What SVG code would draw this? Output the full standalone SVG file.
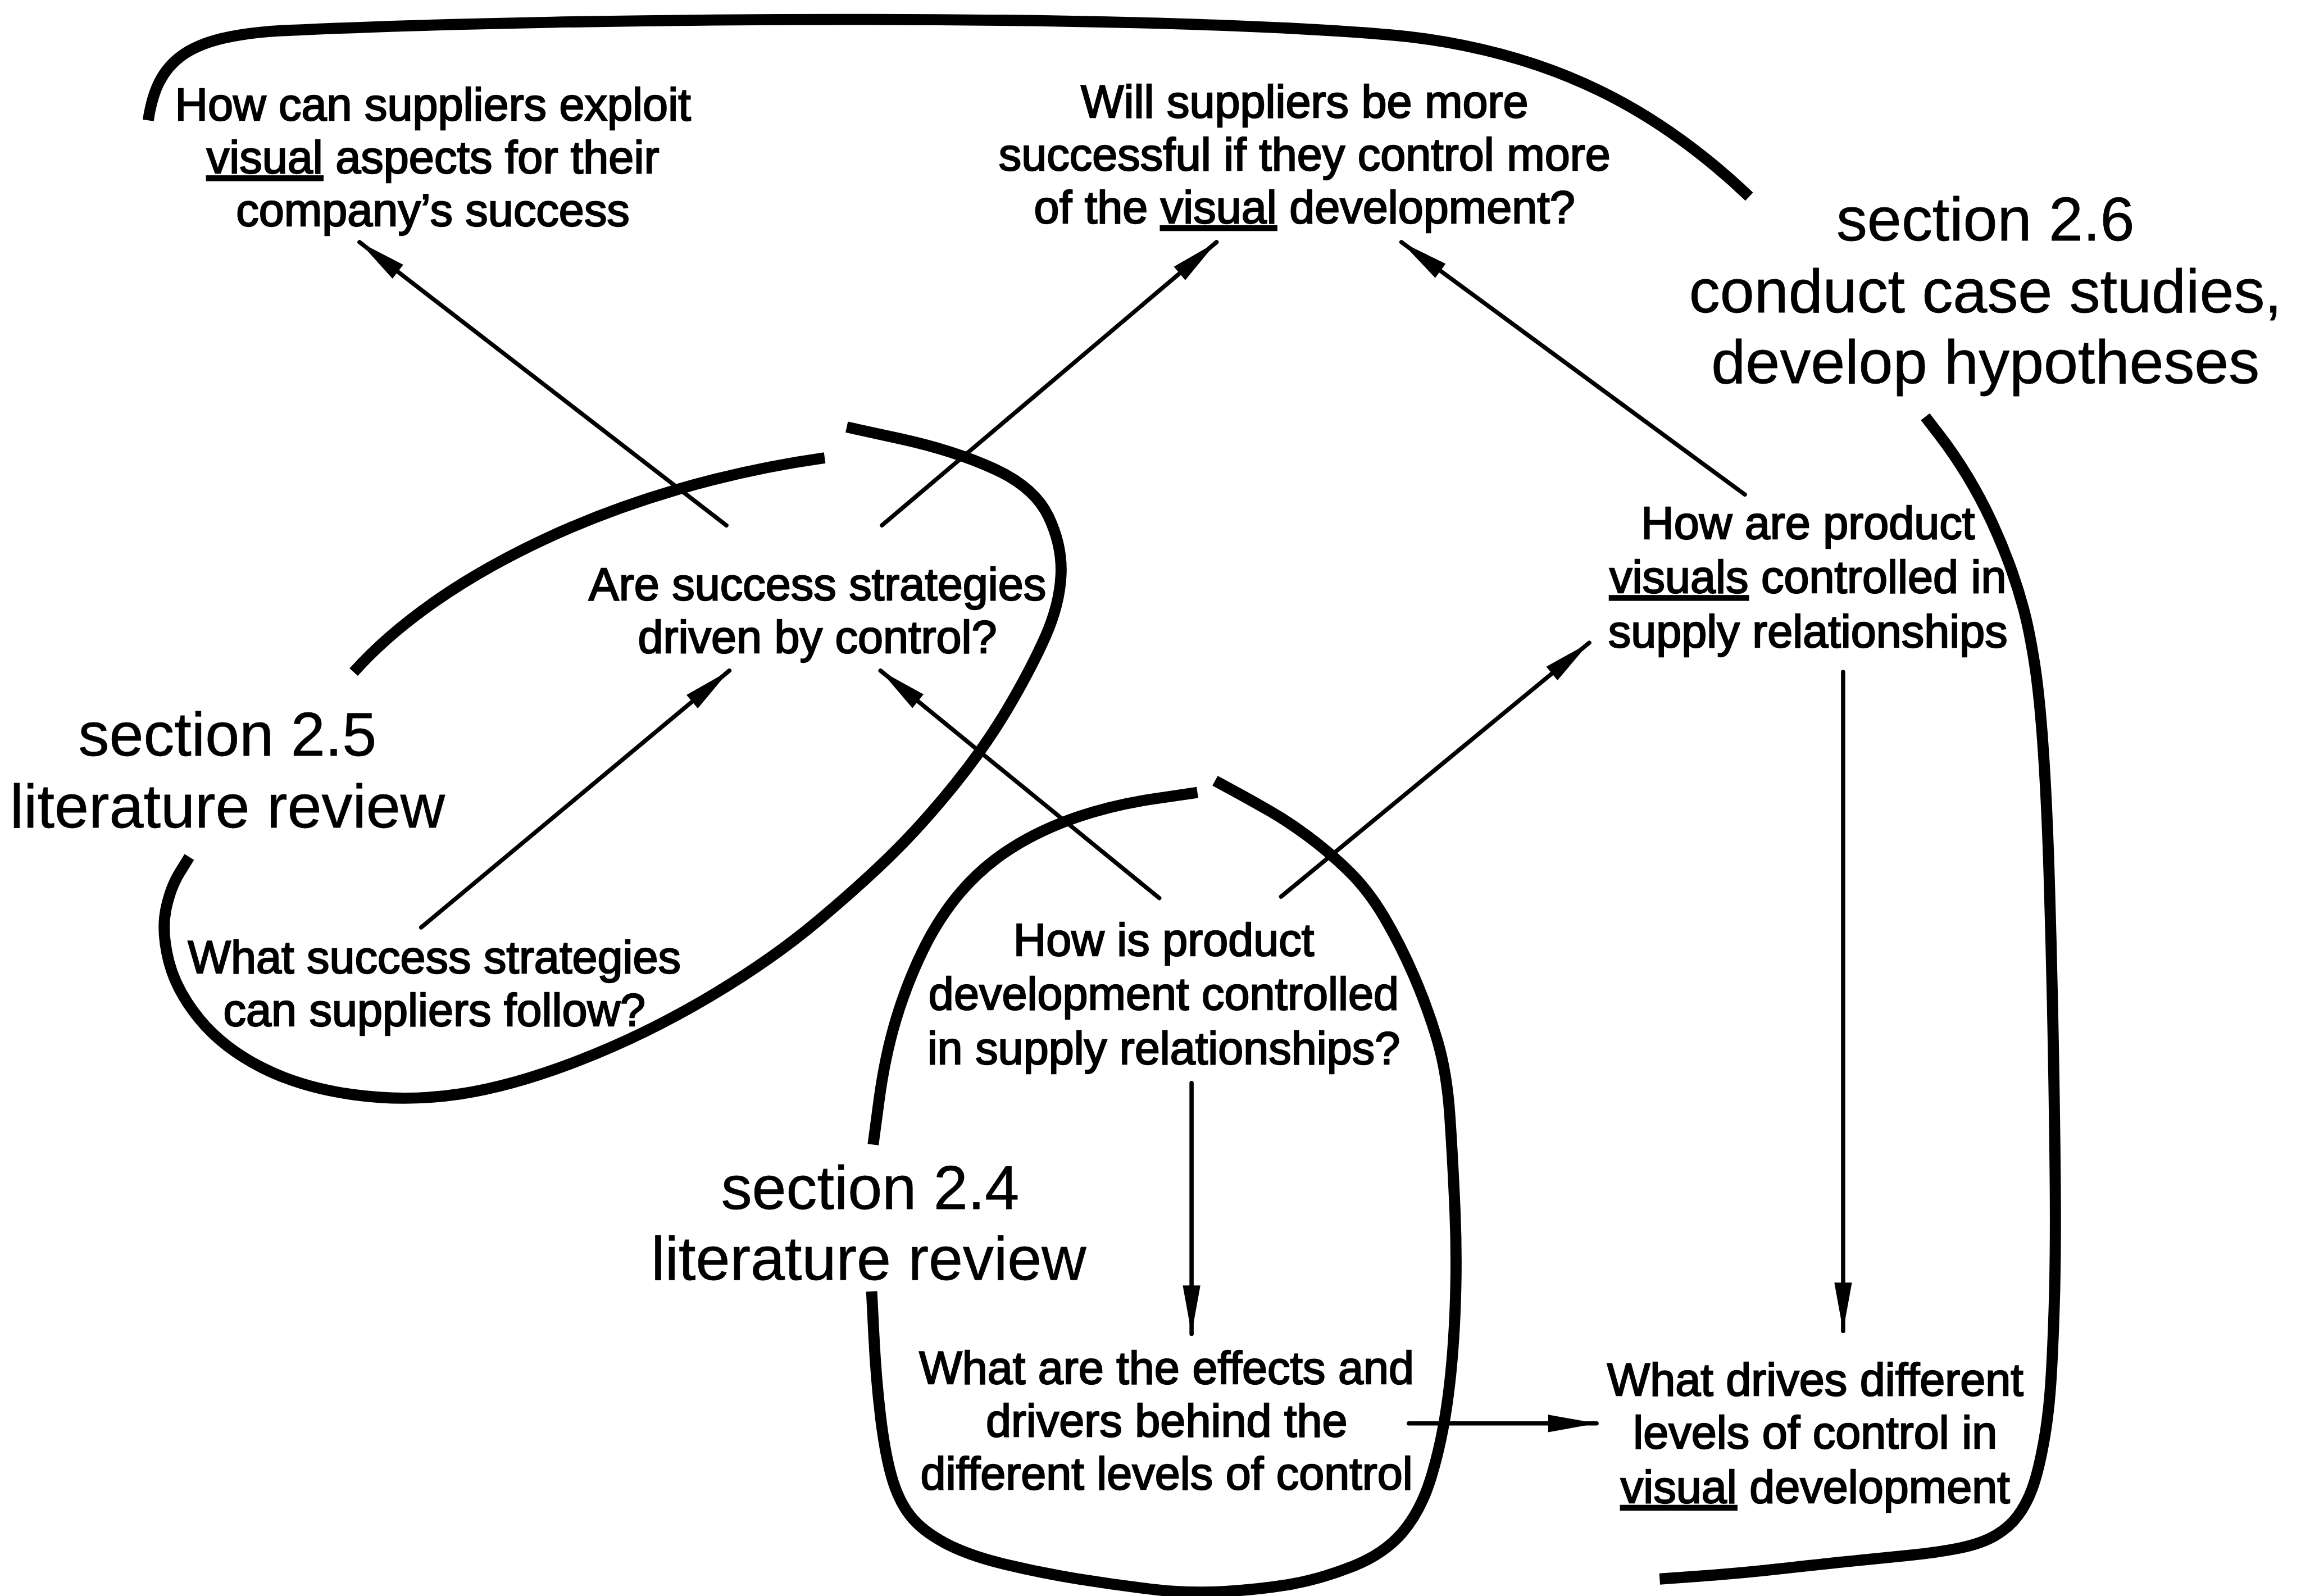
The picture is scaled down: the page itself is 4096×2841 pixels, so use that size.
<svg xmlns="http://www.w3.org/2000/svg" width="4096" height="2841" viewBox="0 0 4096 2841">
  <style>
    .q { font-family: "Liberation Sans", Arial, sans-serif; font-size: 31px; fill: #000; stroke: #000; stroke-width: 0.9px; text-anchor: middle; }
    .s { font-family: "Liberation Sans", Arial, sans-serif; font-size: 42px; fill: #000; stroke: #000; stroke-width: 0.3px; text-anchor: middle; }
    .u { text-decoration: underline; }
    .b { fill: none; stroke: #000; stroke-width: 7.6; stroke-linecap: butt; stroke-linejoin: round; }
    .c { fill: none; stroke: #000; stroke-width: 2.9; stroke-linecap: round; }
  </style>
  <defs>
    <marker id="head" markerUnits="userSpaceOnUse" orient="auto" overflow="visible" markerWidth="1" markerHeight="1">
      <path d="M0,0 L-33,-6 L-33,6 Z" fill="#000"/>
    </marker>
  </defs>
  <rect width="4096" height="2841" fill="#fff"/>
  <g transform="scale(2.6122)">
    <!-- region outlines -->
    <g id="regions">
      <g id="region-2-6">
        <path class="b" d="M 101 82 C 107 42, 126 25, 190 21 C 400 11, 800 9, 960 25 C 1060 37, 1130 75, 1192 134"/>
        <path class="b" d="M 1312 284 L 1322 297 Q 1332 310 1341 325 Q 1350 340 1357 355 Q 1364 370 1369.5 385 Q 1375 400 1379 415 Q 1383 430 1386.5 452.5 Q 1390 475 1392.5 512.5 Q 1395 550 1396.5 600 Q 1398 650 1399 700 Q 1400 750 1400.5 800 Q 1401 850 1400 885 Q 1399 920 1397.5 942.5 Q 1396 965 1392.5 984 Q 1389 1003 1385 1014 Q 1381 1025 1375 1033 Q 1369 1041 1359.5 1046.5 Q 1350 1052 1335 1055 Q 1320 1058 1300 1060 Q 1280 1062 1260 1064 Q 1240 1066 1213.5 1069 Q 1187 1072 1159 1074 L 1131 1076"/>
      </g>
      <g id="region-2-5">
        <path class="b" d="M 241 458 C 300 392, 420 332, 562 312"/>
        <path class="b" d="M 577 291 L 613.5 299 Q 650 307 677.5 319.5 Q 705 332 714.5 352 Q 724 372 723 392 Q 722 412 712.5 433.5 Q 703 455 687.5 481.5 Q 672 508 651 534 Q 630 560 610 580 Q 590 600 558 627 Q 526 654 483 679.5 Q 440 705 395 722.5 Q 350 740 313.5 745.5 Q 277 751 241 746 Q 205 741 178.5 727.5 Q 152 714 136 694.5 Q 120 675 115 655 Q 110 635 113 620 Q 116 605 122.5 594.5 L 129 584"/>
      </g>
      <g id="region-2-4">
        <path class="b" d="M 816 540 L 789 544 Q 760 548 735 556.5 Q 710 565 690 577.5 Q 670 590 655 607.5 Q 640 625 629 647.5 Q 618 670 610.5 695 Q 603 720 599 750 L 595 780"/>
        <path class="b" d="M 594 880 L 595.5 910 Q 597 940 600 965 Q 603 990 607.5 1006 Q 612 1022 620 1032.5 Q 628 1043 644 1051.5 Q 660 1060 685 1066 Q 710 1072 735 1076 Q 760 1080 785 1083 Q 810 1086 835 1084.5 Q 860 1083 880 1079.5 Q 900 1076 921.5 1067.5 Q 943 1059 955.5 1044.5 Q 968 1030 975 1007.5 Q 982 985 986 957.5 Q 990 930 991.5 895 Q 993 860 991.5 825 Q 990 790 988 760.5 Q 986 731 979.5 709 Q 973 687 963.5 665 Q 954 643 943 624.5 Q 932 606 918.5 593 Q 905 580 891.5 570 Q 878 560 865 552.5 Q 852 545 840 538.5 L 828 532"/>
      </g>
    </g>

    <!-- connectors -->
    <g id="connectors">
      <path class="c" marker-end="url(#head)" d="M 495 358 L 245 165"/>
      <path class="c" marker-end="url(#head)" d="M 601 358 L 829 165"/>
      <path class="c" marker-end="url(#head)" d="M 1189 337 L 955 165"/>
      <path class="c" marker-end="url(#head)" d="M 287 632 L 497 457"/>
      <path class="c" marker-end="url(#head)" d="M 790 612 L 600 457"/>
      <path class="c" marker-end="url(#head)" d="M 873 611 L 1083 438"/>
      <path class="c" marker-end="url(#head)" d="M 812 738 L 812 909"/>
      <path class="c" marker-end="url(#head)" d="M 1256 458 L 1256 907"/>
      <path class="c" marker-end="url(#head)" d="M 960 970 L 1088 970"/>
    </g>

    <!-- question nodes -->
    <g id="exploit-visual">
      <text class="q" x="295" y="82">How can suppliers exploit</text>
      <text class="q" x="295" y="118"><tspan class="u">visual</tspan> aspects for their</text>
      <text class="q" x="295" y="154">company’s success</text>
    </g>
    <g id="control-visual-dev">
      <text class="q" x="889" y="80">Will suppliers be more</text>
      <text class="q" x="889" y="116">successful if they control more</text>
      <text class="q" x="889" y="152">of the <tspan class="u">visual</tspan> development?</text>
    </g>
    <g id="strategies-control">
      <text class="q" x="557" y="409">Are success strategies</text>
      <text class="q" x="557" y="445">driven by control?</text>
    </g>
    <g id="visuals-controlled">
      <text class="q" x="1232" y="367">How are product</text>
      <text class="q" x="1232" y="404"><tspan class="u">visuals</tspan> controlled in</text>
      <text class="q" x="1232" y="441">supply relationships</text>
    </g>
    <g id="success-strategies">
      <text class="q" x="296" y="663">What success strategies</text>
      <text class="q" x="296" y="699">can suppliers follow?</text>
    </g>
    <g id="pd-controlled">
      <text class="q" x="793" y="651">How is product</text>
      <text class="q" x="793" y="688">development controlled</text>
      <text class="q" x="793" y="725">in supply relationships?</text>
    </g>
    <g id="effects-drivers">
      <text class="q" x="795" y="943">What are the effects and</text>
      <text class="q" x="795" y="979">drivers behind the</text>
      <text class="q" x="795" y="1015">different levels of control</text>
    </g>
    <g id="drives-levels">
      <text class="q" x="1237" y="951">What drives different</text>
      <text class="q" x="1237" y="987">levels of control in</text>
      <text class="q" x="1237" y="1024"><tspan class="u">visual</tspan> development</text>
    </g>

    <!-- section labels -->
    <g id="label-2-6">
      <text class="s" x="1353" y="164">section 2.6</text>
      <text class="s" x="1353" y="213">conduct case studies,</text>
      <text class="s" x="1353" y="261">develop hypotheses</text>
    </g>
    <g id="label-2-5">
      <text class="s" x="155" y="515">section 2.5</text>
      <text class="s" x="155" y="564">literature review</text>
    </g>
    <g id="label-2-4">
      <text class="s" x="593" y="824">section 2.4</text>
      <text class="s" x="592" y="872">literature review</text>
    </g>
  </g>
</svg>
